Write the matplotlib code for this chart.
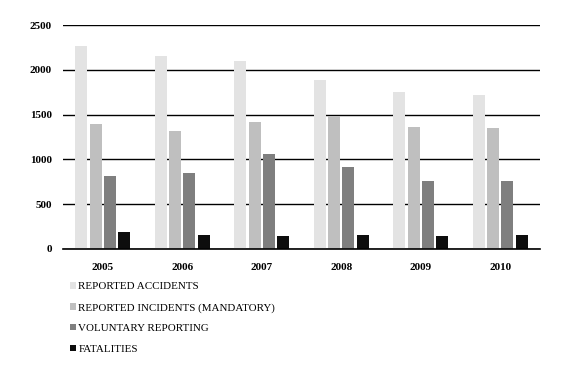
import matplotlib
matplotlib.use("Agg")
import matplotlib.pyplot as plt
import numpy as np

# values
years = ["2005", "2006", "2007", "2008", "2009", "2010"]
reported_accidents = [2270, 2150, 2100, 1890, 1750, 1720]
reported_incidents = [1390, 1320, 1420, 1480, 1360, 1345]
voluntary_reporting = [810, 850, 1060, 910, 760, 760]
fatalities = [190, 160, 150, 160, 150, 160]

series = [
    ("REPORTED ACCIDENTS", reported_accidents, "#e3e3e3"),
    ("REPORTED INCIDENTS (MANDATORY)", reported_incidents, "#bfbfbf"),
    ("VOLUNTARY REPORTING", voluntary_reporting, "#7f7f7f"),
    ("FATALITIES", fatalities, "#0d0d0d"),
]

plt.rcParams["font.family"] = ["Liberation Serif", "DejaVu Serif"]

fig = plt.figure(figsize=(5.79, 3.68), dpi=100)
ax = fig.add_axes([0.1088, 0.3234, 0.8238, 0.6086])

x = np.arange(len(years))
width = 0.15
step = 0.18
handles = []
for i, (label, vals, color) in enumerate(series):
    b = ax.bar(x + (i - 1.5) * step, vals, width, color=color, label=label, zorder=3)
    handles.append(b)

ax.set_xlim(-0.5, len(years) - 0.5)
ax.set_ylim(0, 2500)
ax.set_yticks(range(0, 2501, 500))
ax.yaxis.grid(True, color="black", linewidth=1.0, zorder=0)
ax.axhline(0, color="black", linewidth=1.2, clip_on=False, zorder=4)
ax.set_axisbelow(True)
for s in ax.spines.values():
    s.set_visible(False)
ax.tick_params(axis="both", length=0, labelsize=8)
ax.tick_params(axis="y", pad=8)
ax.tick_params(axis="x", pad=10)
ax.set_xticks(x)
ax.set_xticklabels(years, fontweight="bold")
for t in ax.get_yticklabels():
    t.set_fontweight("bold")

fig.legend(handles=handles, loc="upper left", bbox_to_anchor=(0.121, 0.233),
           ncol=1, frameon=False, fontsize=7.9, handlelength=0.5,
           handleheight=0.5, handletextpad=0.25, labelspacing=1.06,
           borderpad=0, borderaxespad=0)

fig.savefig("out.png", dpi=100)
